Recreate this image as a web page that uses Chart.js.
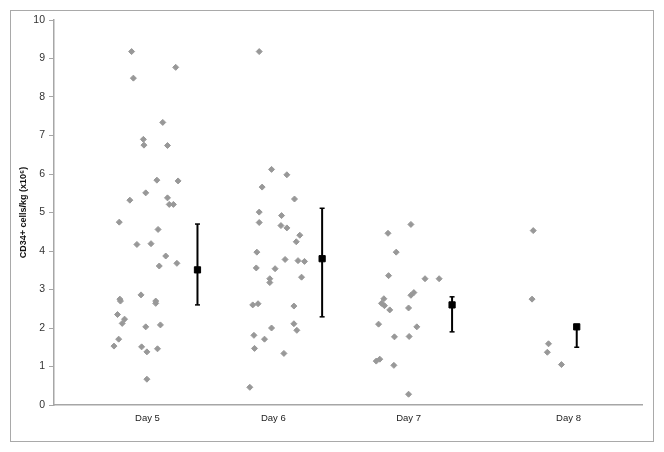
<!DOCTYPE html>
<html lang="en">
<head>
  <meta charset="UTF-8">
  <title>CD34+ cells/kg by day</title>
  <script src="https://cdn.jsdelivr.net/npm/chart.js"></script>
  <style>
    body {
      margin: 0;
      background: #ffffff;
    }
    .wrap {
      position: relative;
      width: 664px;
      height: 452px;
    }
    .frame {
      position: absolute;
      left: 10px;
      top: 10px;
      width: 644px;
      height: 432px;
      box-sizing: border-box;
      border: 1.5px solid #a9a9a9;
      pointer-events: none;
    }
  </style>
</head>
<body>
  <div class="wrap">
    <canvas id="cd34Chart" width="664" height="452"></canvas>
    <div class="frame"></div>
  </div>

  <script>
    // category labels and where they sit on the x scale (0-100)
    const dayLabels = ['Day 5', 'Day 6', 'Day 7', 'Day 8'];
    const dayTickX = [15.9, 37.3, 60.3, 87.5];

    // individual patients (x = jitter position, y = CD34+ cells/kg x10^6)
    const day5X = [13.2, 20.7, 13.5, 18.5, 15.2, 15.3, 19.3, 17.5, 21.1, 15.6, 12.9, 19.3, 19.6, 20.3, 11.1, 17.7, 14.1, 16.5, 19.0, 20.9, 17.9, 14.8, 11.2, 11.3, 17.3, 17.3, 10.8, 12.0, 11.6, 15.6, 18.1, 11.0, 10.2, 14.9, 15.8, 17.6, 15.8];
    const day5Y = [9.18, 8.77, 8.49, 7.34, 6.90, 6.75, 6.74, 5.84, 5.82, 5.51, 5.32, 5.38, 5.21, 5.21, 4.75, 4.56, 4.17, 4.19, 3.87, 3.68, 3.61, 2.86, 2.75, 2.70, 2.70, 2.64, 2.35, 2.23, 2.12, 2.03, 2.08, 1.71, 1.53, 1.51, 1.38, 1.46, 0.67];

    const day6X = [34.9, 37.0, 39.6, 35.4, 40.9, 34.9, 38.7, 34.9, 38.6, 39.6, 41.8, 41.2, 34.5, 39.3, 41.5, 42.6, 34.4, 37.6, 36.7, 36.7, 42.1, 33.8, 34.7, 40.8, 37.0, 40.8, 41.3, 34.0, 35.8, 34.1, 39.1, 33.3];
    const day6Y = [9.18, 6.12, 5.98, 5.66, 5.35, 5.01, 4.92, 4.74, 4.66, 4.60, 4.41, 4.24, 3.97, 3.78, 3.75, 3.73, 3.56, 3.54, 3.28, 3.18, 3.32, 2.60, 2.63, 2.57, 2.00, 2.11, 1.94, 1.81, 1.71, 1.47, 1.34, 0.46];

    const day7X = [60.7, 56.8, 58.2, 56.9, 63.1, 65.5, 61.2, 60.7, 56.1, 55.7, 56.2, 57.1, 60.3, 55.2, 61.7, 57.9, 60.4, 54.8, 55.4, 57.8, 60.3];
    const day7Y = [4.69, 4.46, 3.97, 3.36, 3.28, 3.28, 2.92, 2.85, 2.76, 2.64, 2.58, 2.47, 2.52, 2.10, 2.03, 1.77, 1.78, 1.14, 1.19, 1.03, 0.28];

    const day8X = [81.5, 81.3, 84.1, 83.9, 86.3];
    const day8Y = [4.53, 2.75, 1.59, 1.37, 1.05];

    // summary marker and error bar per day
    const meanX = [24.4, 45.6, 67.7, 88.9];
    const meanY = [3.51, 3.80, 2.60, 2.03];
    const lowY = [2.60, 2.29, 1.90, 1.50];
    const highY = [4.70, 5.11, 2.81, 2.08];

    const toPoints = (xs, ys) => xs.map((x, i) => ({ x: x, y: ys[i] }));

    const patientPoints = [
      ...toPoints(day5X, day5Y),
      ...toPoints(day6X, day6Y),
      ...toPoints(day7X, day7Y),
      ...toPoints(day8X, day8Y)
    ];

    const errorBars = meanX.map((x, i) => ({
      type: 'scatter',
      data: [{ x: x, y: lowY[i] }, { x: x, y: highY[i] }],
      showLine: true,
      borderColor: '#000000',
      borderWidth: 2,
      pointStyle: 'line',
      pointRadius: 2.5,
      pointBorderWidth: 1.5,
      pointBorderColor: '#000000'
    }));

    const ctx = document.getElementById('cd34Chart').getContext('2d');
    new Chart(ctx, {
      type: 'scatter',
      data: {
        datasets: [
          {
            data: patientPoints,
            pointStyle: 'rectRot',
            pointRadius: 3,
            pointBorderWidth: 1,
            backgroundColor: '#989898',
            borderColor: '#989898'
          },
          ...errorBars,
          {
            data: toPoints(meanX, meanY),
            pointStyle: 'rect',
            pointRadius: 4.4,
            pointBorderWidth: 1,
            backgroundColor: '#000000',
            borderColor: '#000000'
          }
        ]
      },
      options: {
        responsive: false,
        devicePixelRatio: 1,
        animation: false,
        layout: {
          padding: { left: 0, right: 22, top: 20, bottom: 0 }
        },
        plugins: {
          legend: { display: false },
          tooltip: { enabled: false }
        },
        scales: {
          x: {
            type: 'linear',
            min: 0,
            max: 100,
            afterBuildTicks: scale => {
              scale.ticks = dayTickX.map(v => ({ value: v }));
            },
            afterFit: scale => { scale.height = 47; },
            grid: { display: false, drawTicks: false },
            border: { color: '#a6a6a6', width: 1.5 },
            ticks: {
              padding: 8,
              maxRotation: 0,
              autoSkip: false,
              color: '#222222',
              font: { family: 'Liberation Sans, Arial, sans-serif', size: 9.5 },
              callback: value => dayLabels[dayTickX.indexOf(value)]
            }
          },
          y: {
            min: 0,
            max: 10,
            afterFit: scale => { scale.width = 54; },
            grid: {
              drawOnChartArea: false,
              tickLength: 5,
              tickColor: '#a6a6a6'
            },
            border: { color: '#a6a6a6', width: 1.5 },
            ticks: {
              stepSize: 1,
              padding: 4,
              color: '#333333',
              font: { family: 'Liberation Sans, Arial, sans-serif', size: 10.5 }
            },
            title: {
              display: true,
              text: 'CD34+ cells/kg (x10\u2076)',
              color: '#111111',
              padding: { top: 18, bottom: 0 },
              font: { family: 'Liberation Sans, Arial, sans-serif', size: 9, weight: 'bold' }
            }
          }
        }
      }
    });
  </script>
</body>
</html>
